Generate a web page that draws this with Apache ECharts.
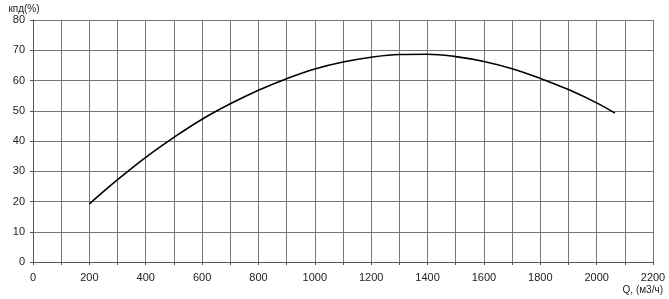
<!DOCTYPE html>
<html>
<head>
<meta charset="utf-8">
<script src="https://cdn.jsdelivr.net/npm/echarts@6/dist/echarts.min.js"></script>
<style>
html,body{margin:0;padding:0;background:#fff;}
#c{width:669px;height:299px;}
</style>
</head>
<body>
<div id="c"></div>
<script>
const flowQ = [200,300,400,500,600,700,800,900,1000,1100,1200,1300,1400,1500,1600,1700,1800,1900,2000,2065];
const efficiency = [19.2,27.2,34.6,41.2,47.2,52.3,56.8,60.6,63.8,66.1,67.7,68.6,68.7,67.9,66.3,63.9,60.7,57.0,52.6,49.2];
const xName = 'Q, (м3/ч)';
const yName = 'кпд(%)';

const chart = echarts.init(document.getElementById('c'));
const font = 'Liberation Sans, Arial, sans-serif';
chart.setOption({
  animation: false,
  backgroundColor: '#fff',
  grid: {left: 33, right: 16, top: 20, bottom: 37, containLabel: false},
  xAxis: {
    type: 'value', min: 0, max: 2200, interval: 100,
    name: xName, nameLocation: 'end', nameGap: 10,
    nameTextStyle: {fontFamily: font, fontSize: 10, color: '#222', align: 'right', verticalAlign: 'top', padding: [23, 0, 0, 0]},
    axisLine: {show: true, lineStyle: {color: '#555', width: 1}},
    axisTick: {show: true, length: 3, lineStyle: {color: '#555'}},
    axisLabel: {fontFamily: font, fontSize: 11, color: '#222', margin: 10,
      formatter: v => (v % 200 === 0 ? String(v) : '')},
    splitLine: {show: true, lineStyle: {color: '#777', width: 1}}
  },
  yAxis: {
    type: 'value', min: 0, max: 80, interval: 10,
    name: yName, nameLocation: 'end', nameGap: 6,
    nameTextStyle: {fontFamily: font, fontSize: 10, color: '#222', align: 'center', padding: [0, 18, 0, 0]},
    axisLine: {show: true, lineStyle: {color: '#555', width: 1}},
    axisTick: {show: true, length: 3, lineStyle: {color: '#555'}},
    axisLabel: {fontFamily: font, fontSize: 11, color: '#222', margin: 8},
    splitLine: {show: true, lineStyle: {color: '#777', width: 1}}
  },
  series: [{
    type: 'line',
    data: flowQ.map((q, i) => [q, efficiency[i]]),
    smooth: 0.4,
    symbol: 'none',
    lineStyle: {color: '#000', width: 1.6}
  }]
});
</script>
</body>
</html>
